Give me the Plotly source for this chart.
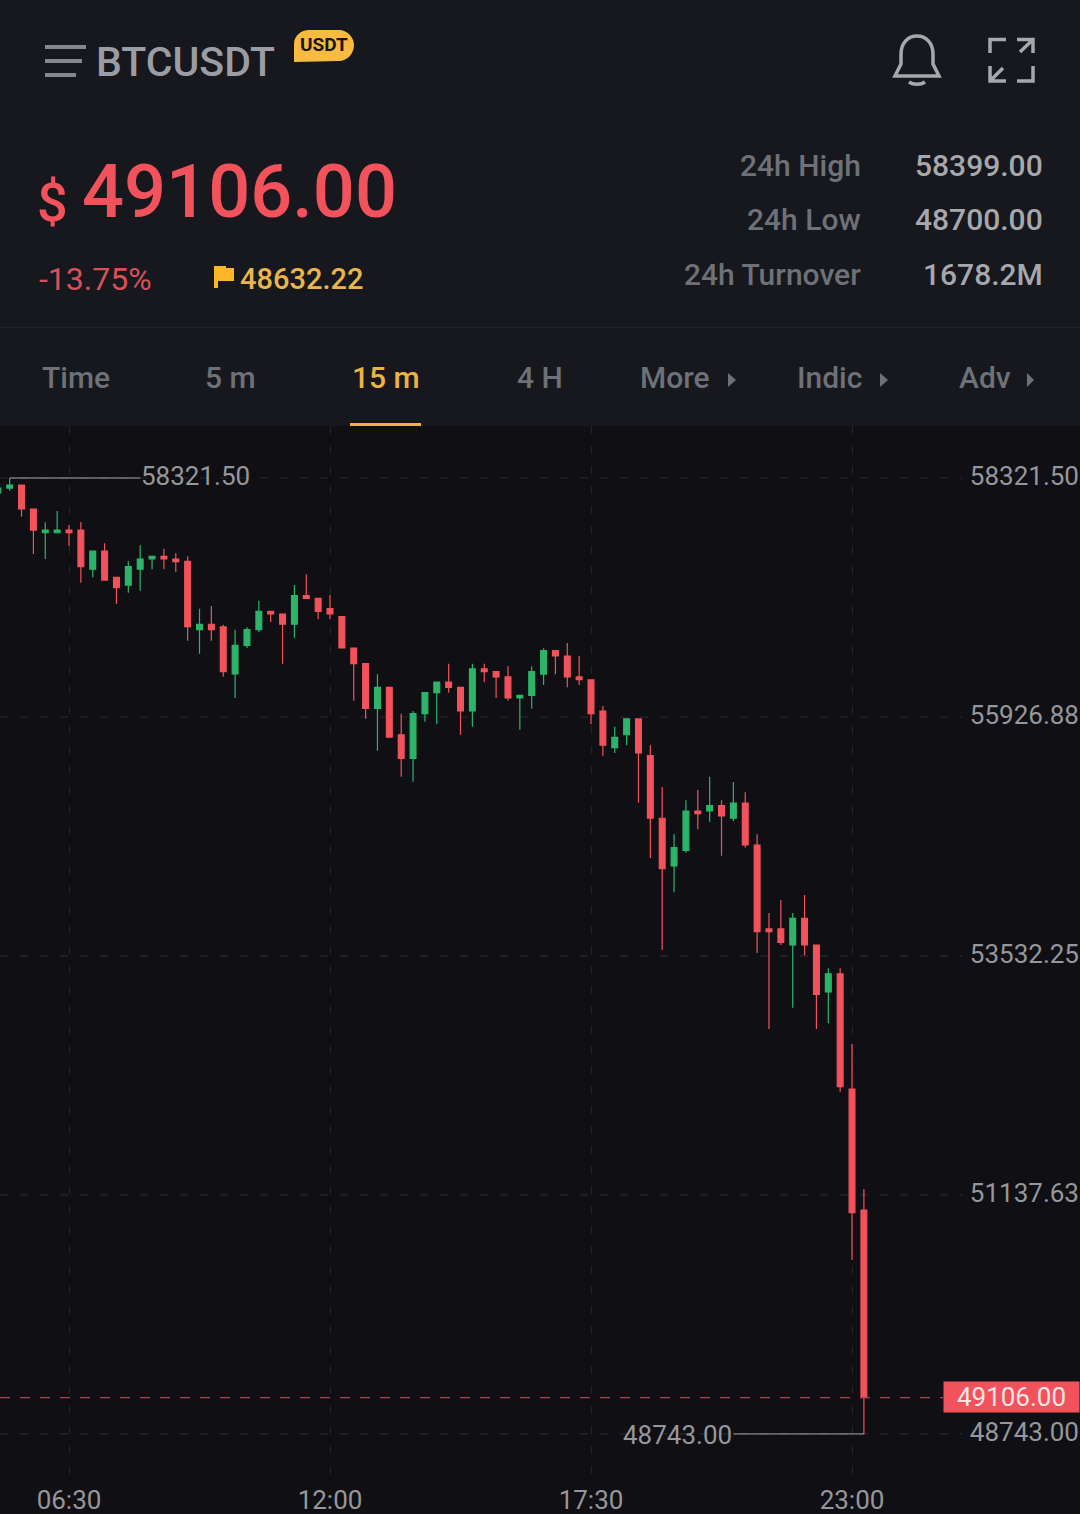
import pandas as pd
import plotly.graph_objects as go

# 15 minute candles
opens = [58171,58221,58251,58011,57773,57773,57800,57800,57407,57590,57327,57249,57407,57510,57537,57510,
         57487,56802,56856,56829,56358,56645,56802,56986,56959,56856,57144,57116,57012,56932,56618,56461,
         56014,56224,55749,55513,55960,56170,56277,56224,55987,56408,56381,56328,56117,56144,56355,56591,
         56538,56328,56300,55987,55619,55749,55907,55539,54912,54434,54591,54985,54985,55038,54912,55065,
         54644,53803,53803,53642,53910,53642,53171,53354,52199,50987]
highs = [58221,58321.5,58251,58011,57878,57991,57851,57881,57590,57667,57327,57487,57647,57537,57613,57567,
         57537,57012,57039,56852,56802,56826,57092,56986,56959,57249,57357,57116,57149,56932,56618,56461,
         56355,56224,55960,55987,56170,56277,56461,56224,56461,56461,56381,56435,56144,56435,56615,56591,
         56668,56538,56300,56037,55830,55907,55907,55643,55225,54751,55092,55195,55329,55092,55275,55172,
         54751,53963,54093,53963,54143,53642,53409,53409,52650,51197]
lows = [58171,58194,57934,57560,57510,57773,57640,57272,57327,57299,57059,57172,57192,57407,57407,57380,
        56691,56561,56691,56331,56117,56618,56775,56879,56461,56721,57116,56906,56906,56618,56090,55910,
        55589,55726,55329,55278,55880,55853,56170,55749,55830,56274,56117,56090,55800,56010,56247,56355,
        56224,56247,55855,55539,55566,55643,55068,54514,53592,54170,54567,54801,54878,54537,54882,54617,
        53562,52800,53642,53014,53539,52800,52857,52172,50486,48743]
closes = [58221,58251,58011,57800,57800,57800,57773,57433,57590,57299,57222,57433,57510,57537,57510,57483,
          56832,56856,56802,56381,56645,56802,56986,56959,56856,57144,57116,56986,56959,56618,56461,56014,
          56224,55726,55513,55960,56170,56277,56224,55987,56408,56381,56328,56117,56144,56381,56591,56538,
          56328,56300,55960,55644,55723,55907,55566,54912,54407,54617,54985,54958,55038,54935,55065,54644,
          53775,53775,53669,53910,53642,53148,53354,52222,50960,49106]

y_ticks = [58321.50, 55926.88, 53532.25, 51137.63, 48743.00]
y_labels = ["58321.50", "55926.88", "53532.25", "51137.63", "48743.00"]
x_ticks = ["2021-02-22 06:30", "2021-02-22 12:00", "2021-02-22 17:30", "2021-02-22 23:00"]
x_labels = ["06:30", "12:00", "17:30", "23:00"]

last_price = 49106.00
tabs = ["Time", "5 m", "15 m", "4 H", "More", "Indic", "Adv"]
tab_left = [41, 204, 351, 516, 639, 796, 958]
stat_names = ["24h High", "24h Low", "24h Turnover"]
stat_values = ["58399.00", "48700.00", "1678.2M"]

W, H = 1080, 1514
RED = "#f2525c"
GREEN = "#2cb46a"
ORANGE = "#ecb244"
HEADER = "#16181d"
CHART = "#101014"
GREY = "#96979b"
ICON = "#a6a8ac"
FONT = "Roboto"

times = pd.date_range("2021-02-22 05:00", periods=len(opens), freq="15min")
step = pd.Timedelta(minutes=15)


def px(x):
    return x / W


def py(y):
    return 1 - y / H


def pth(d):
    # path written in screen pixels, plotly wants paper fractions
    out = []
    for tok in d.split():
        if tok.isalpha():
            out.append(tok)
        else:
            a, b = tok.split(",")
            out.append(f"{px(float(a)):.5f},{py(float(b)):.5f}")
    return " ".join(out)


def ui_path(d, color, width=0, fill=None):
    return dict(type="path", xref="paper", yref="paper", path=pth(d),
                line=dict(color=color, width=width), fillcolor=fill or "rgba(0,0,0,0)")


def ui_rect(x0, y0, x1, y1, fill):
    return dict(type="rect", xref="paper", yref="paper", x0=px(x0), x1=px(x1), y0=py(y0), y1=py(y1),
                fillcolor=fill, line=dict(width=0), layer="below")


def ui_text(text, x, y, size, color, anchor="left", weight=500):
    return dict(text=text, x=px(x), y=py(y), xref="paper", yref="paper", xanchor=anchor, yanchor="middle",
                showarrow=False, borderpad=0, font=dict(family=FONT, size=size, color=color, weight=weight))


fig = go.Figure(go.Candlestick(
    x=times, open=opens, high=highs, low=lows, close=closes,
    increasing=dict(line=dict(color=GREEN, width=1.2), fillcolor=GREEN),
    decreasing=dict(line=dict(color=RED, width=1.2), fillcolor=RED),
    whiskerwidth=0, hoverinfo="skip", showlegend=False,
))

shapes = [
    ui_rect(0, 0, W, 426, HEADER),
    ui_rect(0, 116, W, 117, "#1a1c21"),
    ui_rect(0, 327, W, 328, "#212328"),
    ui_rect(350, 423, 421, 426, ORANGE),
    # menu icon
    ui_path("M 45,47 L 86,47", "#85878c", 4),
    ui_path("M 45,61 L 82,61", "#85878c", 4),
    ui_path("M 45,75 L 76,75", "#85878c", 4),
    # usdt badge
    ui_path("M 294,62 L 294,44 C 294,36 301,30 309,30 L 339,30 C 347,30 354,37 354,45 "
            "C 354,54 347,61 339,61 Z", "#f7bb40", 0, "#f7bb40"),
    # bell
    ui_path("M 895,76 L 901,64 L 901,54 C 901,43 908,36 917,36 C 926,36 933,43 933,54 L 933,64 L 939,76 Z", ICON, 3.5),
    ui_path("M 909,82 C 913,85 921,85 925,82", ICON, 3.5),
    # expand icon
    ui_path("M 990,53 L 990,39.5 L 1006,39.5", ICON, 3.5),
    ui_path("M 1017,39.5 L 1033,39.5 L 1033,53 M 1033,39.5 L 1020,52", ICON, 3.5),
    ui_path("M 990,66 L 990,81 L 1006,81 M 990,81 L 1003,68", ICON, 3.5),
    ui_path("M 1033,66 L 1033,81 L 1017,81", ICON, 3.5),
    # flag
    ui_path("M 214,266 L 226,266 L 226,268 L 234,268 L 234,281 L 218,281 L 218,288 L 214,288 Z", "#fcb626", 0, "#fcb626"),
    # tab arrows
    ui_path("M 728,373 L 736,380 L 728,387 Z", "#6e7177", 0, "#6e7177"),
    ui_path("M 880,373 L 888,380 L 880,387 Z", "#6e7177", 0, "#6e7177"),
    ui_path("M 1027,373 L 1034,380 L 1027,387 Z", "#6e7177", 0, "#6e7177"),
]

# price grid stops short of the axis labels
for v in y_ticks:
    shapes.append(dict(type="line", xref="paper", yref="y", x0=0, x1=px(962), y0=v, y1=v, layer="below",
                       line=dict(color="#29292d", width=1.2, dash="8px,12px")))

# last price line
shapes.append(dict(type="line", xref="paper", yref="y", x0=0, x1=px(943), y0=last_price, y1=last_price,
                   line=dict(color="#a8454c", width=1.2, dash="10px,10px")))

# high / low call-outs
shapes.append(dict(type="line", xref="x", yref="y", x0=times[1], x1=times[1] + 11 * step,
                   y0=max(highs), y1=max(highs), line=dict(color="#a8a8aa", width=1)))
shapes.append(dict(type="line", xref="x", yref="y", x0=times[-1], x1=times[-1] - 11 * step,
                   y0=min(lows), y1=min(lows), line=dict(color="#a8a8aa", width=1)))

annotations = [
    ui_text("BTCUSDT", 95, 62, 41, "#9a9da3"),
    ui_text("USDT", 324, 45, 19, "#1a1408", "center", 700),
    ui_text("$", 36, 203, 54, RED),
    ui_text("49106.00", 81, 191, 74, RED),
    ui_text("-13.75%", 38, 279, 32, "#d9505b", weight=400),
    ui_text("48632.22", 239, 279, 29, "#eab54a"),
    dict(text=f"{max(highs):.2f}", x=times[1] + 11 * step, y=max(highs), xref="x", yref="y", xanchor="left",
         yanchor="middle", yshift=2, showarrow=False, borderpad=0, font=dict(family=FONT, size=26, color=GREY)),
    dict(text=f"{min(lows):.2f}", x=times[-1] - 11 * step, y=min(lows), xref="x", yref="y", xanchor="right",
         yanchor="middle", yshift=-1, showarrow=False, borderpad=0, font=dict(family=FONT, size=26, color=GREY)),
    dict(text=f"{last_price:.2f}", x=1, y=last_price, xref="paper", yref="y", xanchor="right", yanchor="middle",
         showarrow=False, bgcolor=RED, width=135, height=30, align="center", borderpad=0, yshift=1,
         font=dict(family=FONT, size=26, color="#f6e6e6")),
]
for name, value, row_y in zip(stat_names, stat_values, [166, 220, 274]):
    annotations.append(ui_text(name, 862, row_y, 30, "#6e7177", "right"))
    annotations.append(ui_text(value, 1044, row_y, 30, "#a6a8ac", "right"))
for tab, left in zip(tabs, tab_left):
    annotations.append(ui_text(tab, left, 378, 30, ORANGE if tab == "15 m" else "#6e7177"))

# pixel 0 and 1080 of the time axis, 11.864 px per candle with 06:30 at x=69
x_start = pd.Timestamp(x_ticks[0]) - step * (69 / 11.864)
x_end = pd.Timestamp(x_ticks[0]) + step * ((W - 69) / 11.864)
# price axis, 10.02 per px with 58321.5 at y=478
y_top = y_ticks[0] + (478 - 426) * 10.02
y_bottom = y_ticks[0] - (1486 - 478) * 10.02

fig.update_layout(
    width=W, height=H, margin=dict(l=0, r=0, t=0, b=0), autosize=False,
    paper_bgcolor=CHART, plot_bgcolor=CHART, boxgap=0.3,
    shapes=shapes, annotations=annotations, showlegend=False,
    xaxis=dict(range=[x_start, x_end], rangeslider=dict(visible=False), tickvals=x_ticks, ticktext=x_labels,
               showgrid=True, gridcolor="#252529", griddash="8px,12px", gridwidth=1.2, zeroline=False,
               showline=False, ticks="", automargin=False, fixedrange=True, ticklabelstandoff=-4,
               tickfont=dict(family=FONT, size=26, color=GREY)),
    yaxis=dict(range=[y_bottom, y_top], domain=[(H - 1486) / H, (H - 426) / H], side="right",
               tickvals=y_ticks, ticktext=y_labels, ticklabelposition="inside", showgrid=False, zeroline=False,
               showline=False, ticks="", automargin=False, fixedrange=True, ticklabelstandoff=-2, ticklabelshift=-2,
               tickfont=dict(family=FONT, size=26, color=GREY)),
)

fig.write_html("out.html", config={"displayModeBar": False},
               post_script='document.body.style.margin="0";document.body.style.overflow="hidden";')
